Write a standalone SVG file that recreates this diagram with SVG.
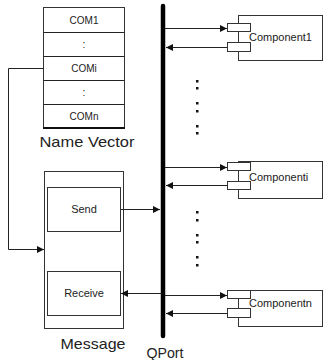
<svg xmlns="http://www.w3.org/2000/svg" width="324" height="360" viewBox="0 0 324 360">
  <defs>
    <marker id="arr" viewBox="0 0 10 10" refX="10" refY="5" markerWidth="7" markerHeight="7" markerUnits="userSpaceOnUse" orient="auto">
      <path d="M0,0 L10,5 L0,10 z" fill="#111"/>
    </marker>
  </defs>
  <style>
    .box { fill: #fff; stroke: #333; stroke-width: 1; }
    .ln { fill: none; stroke: #222; stroke-width: 1; }
    .t { font-family: "Liberation Sans", Arial, sans-serif; fill: #222; text-anchor: middle; dominant-baseline: central; }
    .s { font-size: 10px; }
    .m { font-size: 11px; }
    .l { font-size: 15px; }
    .c { font-family: "Liberation Sans", Arial, sans-serif; fill: #222; font-size: 11px; dominant-baseline: central; }
    .dot { fill: #111; }
  </style>

  <!-- name vector table -->
  <g id="name-vector">
    <rect class="box" x="43.5" y="7.5" width="81" height="121"/>
    <line class="ln" x1="43.5" y1="32.5" x2="124.5" y2="32.5"/>
    <line class="ln" x1="43.5" y1="56.5" x2="124.5" y2="56.5"/>
    <line class="ln" x1="43.5" y1="80.5" x2="124.5" y2="80.5"/>
    <line class="ln" x1="43.5" y1="104.5" x2="124.5" y2="104.5"/>
    <line x1="43" y1="128" x2="125" y2="128" stroke="#111" stroke-width="2"/>
    <text class="t s" x="84" y="20">COM1</text>
    <text class="t s" x="84" y="44">:</text>
    <text class="t s" x="84" y="68">COMi</text>
    <text class="t s" x="84" y="92">:</text>
    <text class="t s" x="84" y="116">COMn</text>
    <text class="t l" x="87" y="141" textLength="95" lengthAdjust="spacingAndGlyphs">Name Vector</text>
  </g>

  <!-- message block -->
  <g id="message">
    <rect class="box" x="44.5" y="171.5" width="79" height="157"/>
    <text class="t l" x="93" y="343" textLength="65" lengthAdjust="spacingAndGlyphs">Message</text>
  </g>
  <g id="send">
    <rect class="box" x="47.5" y="187.5" width="73" height="44"/>
    <text class="t m" x="84" y="209">Send</text>
  </g>
  <g id="receive">
    <rect class="box" x="47.5" y="271.5" width="73" height="44"/>
    <text class="t m" x="84" y="293">Receive</text>
  </g>

  <!-- bus -->
  <g id="qport">
    <line x1="163" y1="6" x2="163" y2="336" stroke="#000" stroke-width="4.5" stroke-linecap="round"/>
    <text class="t l" x="165" y="352" textLength="37" lengthAdjust="spacingAndGlyphs">QPort</text>
  </g>

  <!-- components -->
  <g id="component1">
    <rect class="box" x="238.5" y="15.5" width="84" height="45"/>
    <rect class="box" x="227.5" y="23.5" width="23" height="8"/>
    <rect class="box" x="227.5" y="42.5" width="23" height="9"/>
    <text class="c" x="249" y="37">Component1</text>
  </g>
  <g id="componenti">
    <rect class="box" x="238.5" y="161.5" width="84" height="37"/>
    <rect class="box" x="227.5" y="162.5" width="23" height="8"/>
    <rect class="box" x="227.5" y="181.5" width="23" height="8"/>
    <text class="c" x="249" y="177">Componenti</text>
  </g>
  <g id="componentn">
    <rect class="box" x="238.5" y="290.5" width="84" height="36"/>
    <rect class="box" x="227.5" y="290.5" width="23" height="8"/>
    <rect class="box" x="227.5" y="308.5" width="23" height="9"/>
    <text class="c" x="249" y="303">Componentn</text>
  </g>

  <!-- ellipsis dots -->
  <g id="dots">
    <rect class="dot" x="196" y="80" width="2.5" height="2.5"/>
    <rect class="dot" x="196" y="87" width="2.5" height="2.5"/>
    <rect class="dot" x="196" y="102" width="2.5" height="2.5"/>
    <rect class="dot" x="196" y="110" width="2.5" height="2.5"/>
    <rect class="dot" x="196" y="125" width="2.5" height="2.5"/>
    <rect class="dot" x="196" y="132" width="2.5" height="2.5"/>
    <rect class="dot" x="196" y="211" width="2.5" height="2.5"/>
    <rect class="dot" x="196" y="219" width="2.5" height="2.5"/>
    <rect class="dot" x="196" y="234" width="2.5" height="2.5"/>
    <rect class="dot" x="196" y="241" width="2.5" height="2.5"/>
    <rect class="dot" x="196" y="256" width="2.5" height="2.5"/>
    <rect class="dot" x="196" y="264" width="2.5" height="2.5"/>
  </g>

  <!-- connectors -->
  <g id="connectors">
    <polyline class="ln" points="43.5,68.5 8.5,68.5 8.5,249.5 44,249.5" marker-end="url(#arr)"/>
    <line class="ln" x1="121" y1="209.5" x2="160" y2="209.5" marker-end="url(#arr)"/>
    <line class="ln" x1="162" y1="293.5" x2="121" y2="293.5" marker-end="url(#arr)"/>
    <line class="ln" x1="165" y1="28.5" x2="227" y2="28.5" marker-end="url(#arr)"/>
    <line class="ln" x1="227" y1="47.5" x2="166" y2="47.5" marker-end="url(#arr)"/>
    <line class="ln" x1="165" y1="167.5" x2="227" y2="167.5" marker-end="url(#arr)"/>
    <line class="ln" x1="227" y1="185.5" x2="166" y2="185.5" marker-end="url(#arr)"/>
    <line class="ln" x1="165" y1="295.5" x2="227" y2="295.5" marker-end="url(#arr)"/>
    <line class="ln" x1="227" y1="313.5" x2="166" y2="313.5" marker-end="url(#arr)"/>
  </g>
</svg>
